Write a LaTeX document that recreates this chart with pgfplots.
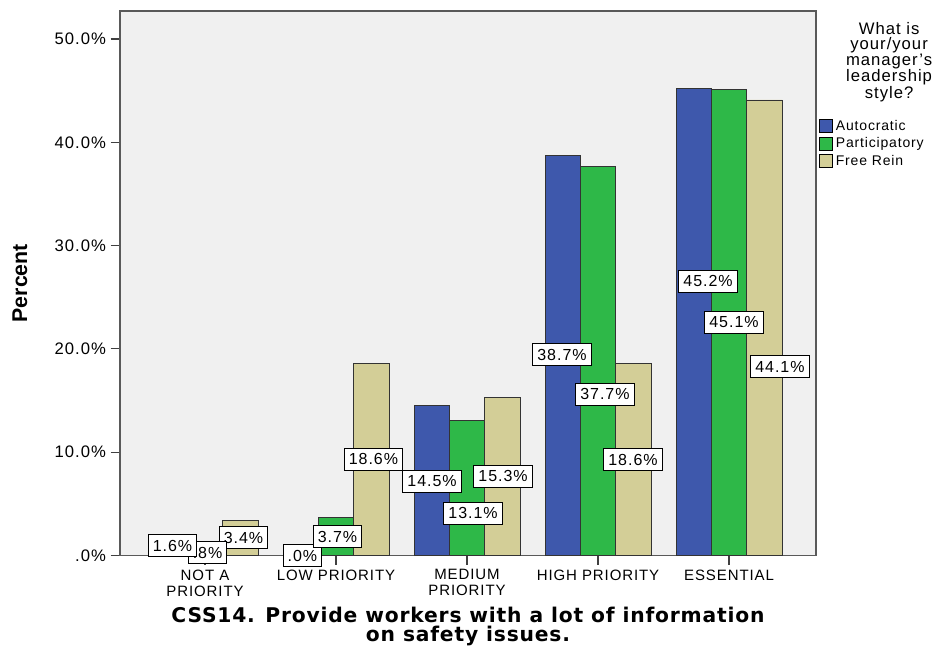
\documentclass[border=0pt]{standalone}
\usepackage{fontspec}
\setmainfont{Liberation Sans}[LetterSpace=6]
\newfontfamily\titlefont{DejaVu Sans}[LetterSpace=4]
\newfontfamily\ylfont{Liberation Sans}
\usepackage{pgfplots}
\pgfplotsset{compat=1.18}
\definecolor{cblue}{HTML}{3E58AC}
\definecolor{cgreen}{HTML}{2EB848}
\definecolor{ctan}{HTML}{D3CE97}
\definecolor{cbg}{HTML}{F0F0F0}
\begin{document}
\begin{tikzpicture}[dl/.style={fill=white, draw=black, line width=0.75pt, font=\fontsize{12}{14}\selectfont, inner xsep=3.5pt, inner ysep=0pt, minimum height=16.5pt}]
\begin{axis}[
  scale only axis, width=522pt, height=408.375pt,
  xmin=-0.649, xmax=4.664, ymin=0, ymax=52.71,
  ybar=0pt, bar width=26.5pt,
  axis background/.style={fill=cbg},
  axis line style={draw=black!65, line width=0.8pt},
  xtick={0,1,2,3,4},
  xticklabels={{NOT A\\PRIORITY},{LOW PRIORITY},{MEDIUM\\PRIORITY},{HIGH PRIORITY},{ESSENTIAL}},
  xticklabel style={align=center, font=\fontsize{11.25}{12}\selectfont},
  ytick={0,10,20,30,40,50},
  yticklabels={.0\%,10.0\%,20.0\%,30.0\%,40.0\%,50.0\%},
  yticklabel style={font=\fontsize{12.5}{14}\selectfont},
  xtick pos=bottom, ytick pos=left, tick align=outside, major tick length=7pt,
  tick style={black!75, line width=0.8pt},
  clip=false,
  ylabel={Percent},
  ylabel style={at={(rel axis cs:-0.1437,0.5)}, anchor=center, font=\ylfont\bfseries\fontsize{16}{18}\selectfont},
  xlabel={CSS14. Provide workers with a lot of information\\on safety issues.},
  xlabel style={at={(rel axis cs:0.5,-0.1305)}, anchor=center, align=center, font=\titlefont\bfseries\fontsize{15.2}{13.9}\selectfont},
  legend style={at={(rel axis cs:1.004,0.805)}, anchor=north west, draw=none, fill=none, inner sep=0pt, font=\fontsize{10.5}{12.4}\selectfont, row sep=0pt},
  legend cell align=left,
  every axis plot post/.append style={legend image code/.code={\draw[##1,draw=black,line width=0.6pt] (0pt,-5pt) rectangle (10pt,5pt);}},
]
\addplot[fill=cblue, draw=black!80, line width=0.6pt] coordinates {(0,1.6) (1,0) (2,14.5) (3,38.7) (4,45.2)};
\addplot[fill=cgreen, draw=black!80, line width=0.6pt] coordinates {(0,0.8) (1,3.7) (2,13.1) (3,37.7) (4,45.1)};
\addplot[fill=ctan, draw=black!80, line width=0.6pt] coordinates {(0,3.4) (1,18.6) (2,15.3) (3,18.6) (4,44.1)};
\legend{Autocratic,Participatory,Free Rein}
\node[dl] at (axis cs:0.294,1.74) {3.4\%};
\node[dl] at (axis cs:0.019,0.29) {.8\%};
\node[dl] at (axis cs:-0.248,0.92) {1.6\%};
\node[dl] at (axis cs:0.744,0.0) {.0\%};
\node[dl] at (axis cs:1.011,1.84) {3.7\%};
\node[dl] at (axis cs:1.286,9.34) {18.6\%};
\node[dl] at (axis cs:1.733,7.21) {14.5\%};
\node[dl] at (axis cs:2.275,7.65) {15.3\%};
\node[dl] at (axis cs:2.046,4.07) {13.1\%};
\node[dl] at (axis cs:2.725,19.41) {38.7\%};
\node[dl] at (axis cs:3.053,15.63) {37.7\%};
\node[dl] at (axis cs:3.267,9.25) {18.6\%};
\node[dl] at (axis cs:3.840,26.57) {45.2\%};
\node[dl] at (axis cs:4.038,22.60) {45.1\%};
\node[dl] at (axis cs:4.389,18.25) {44.1\%};
\node[align=center, font=\fontsize{12.5}{11.6}\selectfont] at (rel axis cs:1.105,0.906) {What is\\your/your\\manager's\\leadership\\style?};
\coordinate (bbSW) at (rel axis cs:-0.17241,-0.16804);
\coordinate (bbNE) at (rel axis cs:1.19397,1.0202);
\end{axis}
\pgfresetboundingbox
\path[use as bounding box] (bbSW) rectangle (bbNE);
\end{tikzpicture}
\end{document}
